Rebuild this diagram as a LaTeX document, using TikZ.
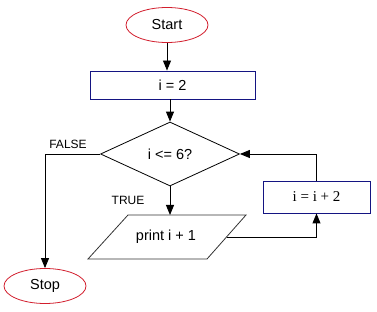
\documentclass[tikz,border=0pt]{standalone}
\usepackage{fontspec}
\setmainfont{Liberation Sans}
\newfontfamily\serifrm{Liberation Serif}
\usetikzlibrary{shapes.geometric,arrows.meta}
\definecolor{termred}{RGB}{210,30,45}
\definecolor{boxblue}{RGB}{20,20,130}
\begin{document}
\begin{tikzpicture}[x=1pt,y=-1pt,
  every node/.style={font=\fontsize{14.5}{16}\selectfont},
  term/.style={ellipse,draw=termred,line width=0.8pt,minimum width=82pt,minimum height=35pt,inner sep=0pt},
  procbox/.style={rectangle,draw=boxblue,line width=0.9pt,inner sep=0pt},
  decide/.style={diamond,draw=black,line width=0.8pt,inner sep=0pt,minimum width=139pt,minimum height=64pt},
  ioline/.style={draw=black!80,line width=0.8pt},
  flow/.style={line width=0.9pt,-{Triangle[length=10pt,width=8pt]}},
  lbl/.style={font=\fontsize{12}{14}\selectfont}]
\useasboundingbox (0,0) rectangle (377,312);
\node[term] (start) at (167,25) {Start};
\node[procbox,minimum width=165pt,minimum height=28pt] (i2) at (172.5,85) {i = 2};
\node[decide] (dec) at (170,154) {i <= 6?};
% parallelogram (input/output)
\coordinate (pTL) at (128,215);
\coordinate (pTR) at (246,215);
\coordinate (pBR) at (207,259);
\coordinate (pBL) at (88,259);
\coordinate (pE) at (226.5,237);
\draw[ioline] (pTL) -- (pTR) -- (pBR) -- (pBL) -- cycle;
\node (prt) at (166,237) {print i + 1};
\node[procbox,minimum width=107pt,minimum height=32pt,font=\serifrm\fontsize{15}{17}\selectfont] (inc) at (316.5,197) {i = i + 2};
\node[term] (stop) at (45,286) {Stop};
\node[lbl] (lfalse) at (68,144) {FALSE};
\node[lbl] (ltrue) at (128,200) {TRUE};
\draw[flow] (start.south) -- (start.south |- i2.north);
\draw[flow] (dec.north |- i2.south) -- (dec.north);
\draw[flow] (dec.south) -- (dec.south |- pTL);
\draw[flow] (dec.west) -| (stop.north);
\draw[flow] (pE) -| (inc.south);
\draw[flow] (inc.north) |- (dec.east);
\end{tikzpicture}
\end{document}
